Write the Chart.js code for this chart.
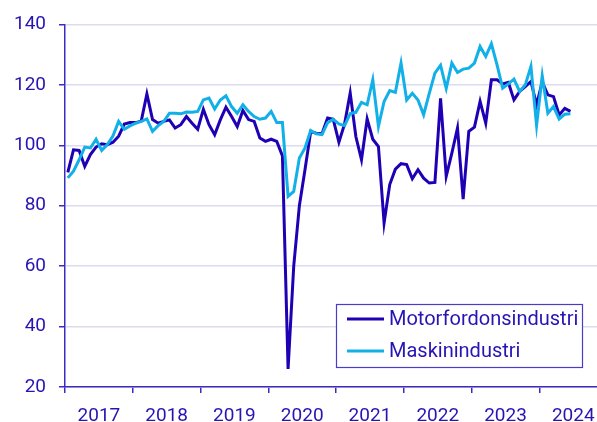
<!DOCTYPE html>
<html lang="sv">
<head>
<meta charset="UTF-8">
<title>Produktion</title>
<script src="https://cdn.jsdelivr.net/npm/chart.js"></script>
<style>
    html, body { margin: 0; padding: 0; background: #fff; }
    #wrap { width: 597px; height: 422px; }
</style>
</head>
<body>
<div id="wrap"><canvas id="myChart" width="597" height="422"></canvas></div>
<script>
// year labels, one per year, month data starts jan 2017
const years = ['2017', '2018', '2019', '2020', '2021', '2022', '2023', '2024'];

const seriesNames = ['Motorfordonsindustri', 'Maskinindustri'];

const motorfordon = [
    91, 98.5, 98.3, 93, 96.9, 99.4, 100.5, 100.2, 101, 103, 107, 107.5,
    107.5, 108, 117, 108.5, 107.3, 107.9, 108.4, 105.7, 106.8, 109.5, 107.3, 105.3,
    111.9, 106.8, 103.5, 108.4, 112.6, 109.5, 106.2, 111.5, 108.5, 107.9, 102.4, 101.3,
    102, 101.3, 96.5, 26, 60, 80, 92, 104.5, 104, 103.8, 109, 108.6,
    101, 107, 117.3, 102.9, 95.2, 108.7, 102, 99.6, 74.3, 87, 92.1, 93.9,
    93.6, 88.9, 91.9, 89.1, 87.5, 87.7, 115.5, 89.7, 97.4, 105.7, 82.2, 104.6,
    106, 114.5, 107.3, 121.7, 121.7, 120.3, 120.8, 115, 117.8, 119.4, 121.1, 113.4,
    121, 116.7, 116.1, 110, 112.2, 111.2
];

const maskin = [
    89.2, 91.4, 95.2, 99.4, 99.1, 102, 98.3, 100.2, 103.1, 107.9, 105.3, 106.4,
    107.3, 107.9, 108.7, 104.6, 106.5, 107.9, 110.6, 110.6, 110.4, 111, 110.9, 111.2,
    115, 115.6, 112, 115, 116.4, 112.8, 110.6, 113.4, 111.2, 109.5, 108.6, 109,
    111.2, 107.5, 107.5, 83.1, 84.7, 95.8, 99.1, 104.9, 103.8, 103.5, 107.5, 108.6,
    107.1, 106.5, 110.5, 110.9, 114.2, 113.4, 121.7, 106.2, 114.5, 118.1, 117.5, 127.2,
    115, 117.2, 115, 110.1, 117.2, 123.9, 126.5, 118.8, 127.2, 124.1, 125.2, 125.5,
    127.2, 132.7, 129.4, 133.6, 126.6, 118.9, 120.3, 121.9, 117.8, 120, 126.1, 106.6,
    123, 110.6, 112.8, 108.7, 110.3, 110.4
];

const darkBlue = '#2000b4';
const lightBlue = '#12b0e8';
const textColor = '#2614b4';
const axisColor = '#3a2cc2';
const gridColor = '#dcdcf0';
const fontFam = 'Roboto, "Noto Sans", sans-serif';

// month index as x
function toPoints(arr) {
    return arr.map((v, i) => ({ x: i, y: v }));
}

// legend box inside the plot, bottom right
const legendBox = {
    id: 'legendBox',
    afterDatasetsDraw(chart) {
        const ctx = chart.ctx;
        const area = chart.chartArea;
        const w = 246, h = 63;
        const left = area.right - 15 - w;
        const top = area.bottom - 20 - h;
        ctx.save();
        ctx.fillStyle = '#fff';
        ctx.fillRect(left, top, w, h);
        ctx.strokeStyle = '#4a3cc6';
        ctx.lineWidth = 1.2;
        ctx.strokeRect(left + 0.5, top + 0.5, w, h);

        ctx.font = '20px ' + fontFam;
        ctx.textBaseline = 'middle';
        chart.data.datasets.forEach((ds, i) => {
            const y = top + 15 + i * 32;
            ctx.strokeStyle = ds.borderColor;
            ctx.lineWidth = 3;
            ctx.beginPath();
            ctx.moveTo(left + 11, y);
            ctx.lineTo(left + 48, y);
            ctx.stroke();
            ctx.fillStyle = textColor;
            ctx.fillText(ds.label, left + 53, y + 1);
        });
        ctx.restore();
    }
};

function drawChart() {
    const ctx = document.getElementById('myChart');

    const data = {
        datasets: [
            {
                label: seriesNames[0],
                data: toPoints(motorfordon),
                borderColor: darkBlue,
                borderWidth: 3,
                pointRadius: 0,
                tension: 0,
                order: 1
            },
            {
                label: seriesNames[1],
                data: toPoints(maskin),
                borderColor: lightBlue,
                borderWidth: 3,
                pointRadius: 0,
                tension: 0,
                order: 0
            }
        ]
    };

    const options = {
        responsive: false,
        animation: false,
        devicePixelRatio: 1,
        layout: { padding: { top: 24, right: 0, left: 0, bottom: 0 } },
        plugins: {
            legend: { display: false },
            tooltip: { enabled: false }
        },
        scales: {
            x: {
                type: 'linear',
                min: -0.5,
                max: 93.7,
                afterBuildTicks: (axis) => {
                    const t = [];
                    for (let k = 0; k < years.length; k++) {
                        t.push({ value: 12 * k - 0.5 });   // year boundary
                        t.push({ value: 12 * k + 5.5 });   // label in middle
                    }
                    axis.ticks = t.filter(tk => tk.value <= axis.max);
                },
                afterFit: (axis) => {
                    axis.height = 35;
                    // 2024 label sits close to the edge, don't let it shrink the plot
                    axis.paddingLeft = 0;
                    axis.paddingRight = 0;
                },
                ticks: {
                    autoSkip: false,
                    maxRotation: 0,
                    color: textColor,
                    padding: 12,
                    font: { family: fontFam, size: 19 },
                    callback: (v) => {
                        const k = (v - 5.5) / 12;
                        return Number.isInteger(k) ? years[k] : '';
                    }
                },
                grid: {
                    drawOnChartArea: false,
                    tickLength: 6,
                    lineWidth: 1.5,
                    tickColor: (c) => (c.tick && (c.tick.value + 0.5) % 12 === 0) ? axisColor : 'rgba(0,0,0,0)'
                },
                border: { color: axisColor, width: 1.5 }
            },
            y: {
                min: 20,
                max: 140,
                afterFit: (axis) => { axis.width = 65; },
                ticks: {
                    stepSize: 20,
                    color: textColor,
                    padding: 13,
                    font: { family: fontFam, size: 19 }
                },
                grid: {
                    color: gridColor,
                    lineWidth: 1.5,
                    tickLength: 6,
                    tickColor: axisColor
                },
                border: { color: axisColor, width: 1.5 }
            }
        }
    };

    new Chart(ctx, {
        type: 'line',
        data: data,
        options: options,
        plugins: [legendBox]
    });
}

drawChart();
</script>
</body>
</html>
